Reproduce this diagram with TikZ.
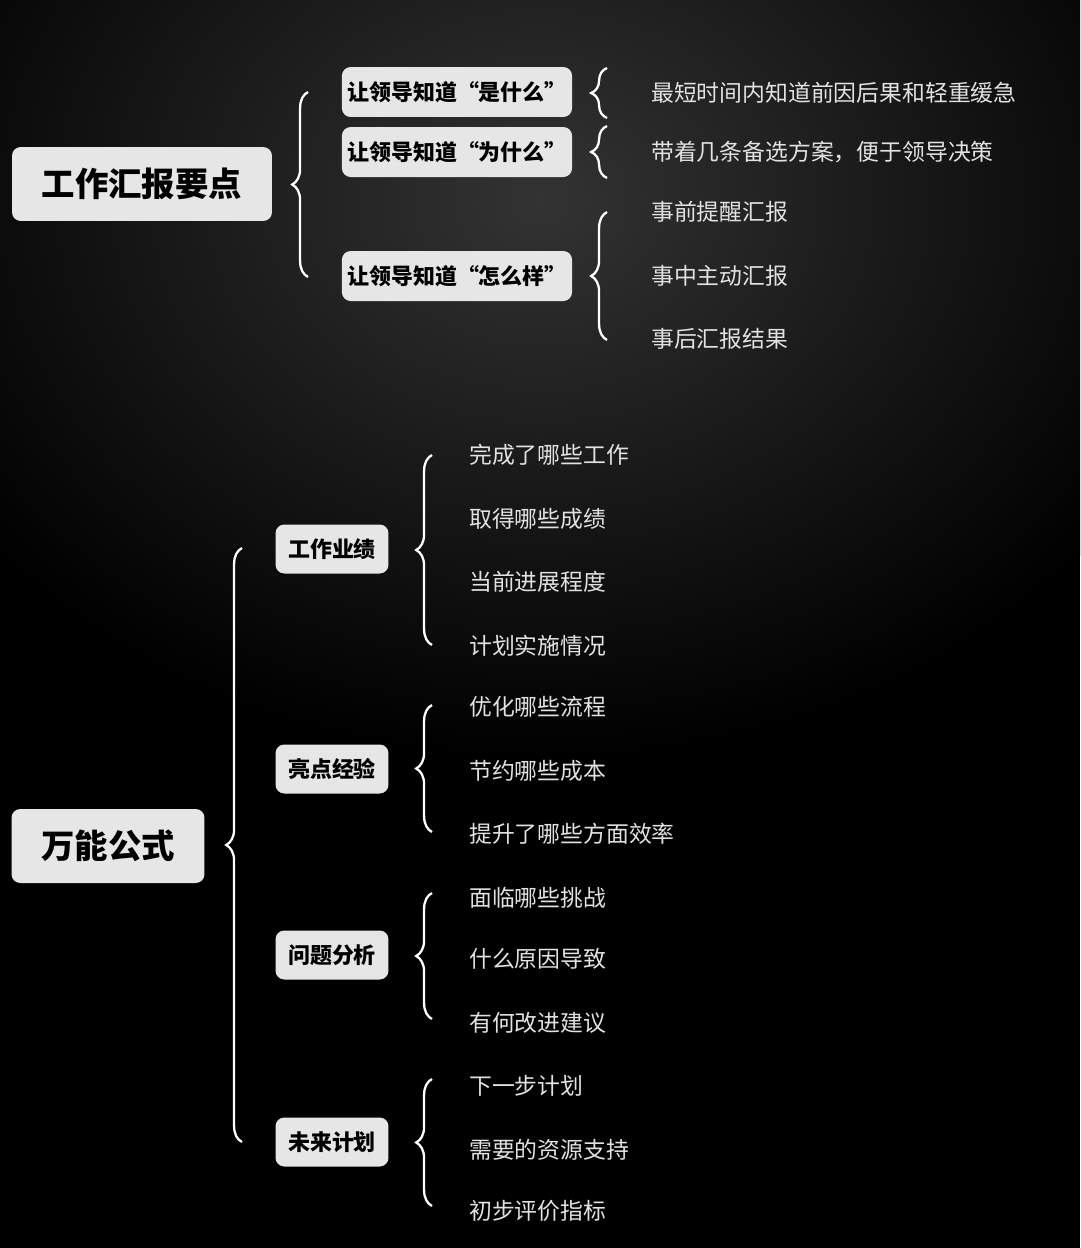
\documentclass[tikz,border=0pt]{standalone}
\usepackage{fontspec}
\setmainfont{Noto Sans CJK SC}
\usetikzlibrary{decorations.pathreplacing}
\definecolor{boxgray}{HTML}{E6E6E6}
\definecolor{txtgray}{HTML}{E2E2E2}
\tikzset{
  titlebox/.style={fill=boxgray,rounded corners=5pt,text=black,font=\fontsize{19}{22}\selectfont\bfseries,minimum height=1.48cm,inner xsep=10pt},
  subbox/.style={fill=boxgray,rounded corners=5pt,text=black,font=\fontsize{12.5}{14}\selectfont\bfseries,minimum height=1cm,inner xsep=3pt},
  leaf/.style={anchor=west,text=txtgray,font=\fontsize{13}{15}\selectfont},
  curly/.style={draw=white,line width=1.3pt,decorate,decoration={brace,amplitude=9pt}}
}
\begin{document}
\begin{tikzpicture}[x=0.02cm,y=-0.02cm]
    \useasboundingbox (0,0) rectangle (1080,1248);
    \fill[black] (0,0) rectangle (1080,1248);
    \begin{scope}
      \clip (0,0) rectangle (1080,1248);
      \shade[inner color=black!80!white,outer color=black] (540,200) ellipse (700 and 560);
    \end{scope}
    % first part
    \node[titlebox,minimum width=5.2cm] (report) at (142,184) {工作汇报要点};
    \node[subbox,minimum width=4.56cm] (what) at (457,92) {让领导知道“是什么”};
    \node[subbox,minimum width=4.56cm] (why) at (457,152) {让领导知道“为什么”};
    \node[subbox,minimum width=4.56cm] (how) at (457,276) {让领导知道“怎么样”};
    \draw[curly] (308,277) -- (308,92);
    \draw[curly] (607,118) -- (607,68);
    \draw[curly] (607,178) -- (607,126);
    \draw[curly] (607,340) -- (607,212);
    \node[leaf] (w1) at (645,93) {最短时间内知道前因后果和轻重缓急};
    \node[leaf] (y1) at (645,152) {带着几条备选方案，便于领导决策};
    \node[leaf] (h1) at (645,212) {事前提醒汇报};
    \node[leaf] (h2) at (645,276) {事中主动汇报};
    \node[leaf] (h3) at (645,339) {事后汇报结果};
    % second part
    \node[titlebox,minimum width=3.86cm] (formula) at (108,846) {万能公式};
    \draw[curly] (242,1142) -- (242,548);
    \foreach \name/\txt/\y in {perf/工作业绩/549,light/亮点经验/769,prob/问题分析/955,plan/未来计划/1142}
      \node[subbox,minimum width=2.26cm,minimum height=0.98cm] (\name) at (332,\y) {\txt};
    \foreach \ya/\yb in {645/455,832/705,1019/893,1206/1079}
      \draw[curly] (432,\ya) -- (432,\yb);
    \foreach \txt [count=\i] in {完成了哪些工作,取得哪些成绩,当前进展程度,计划实施情况,优化哪些流程,节约哪些成本,提升了哪些方面效率,面临哪些挑战,什么原因导致,有何改进建议,下一步计划,需要的资源支持,初步评价指标}
      \node[leaf] (item\i) at (463,{455+63.5*(\i-1)-2*int((\i-1)/4)}) {\txt};
\end{tikzpicture}
\end{document}
